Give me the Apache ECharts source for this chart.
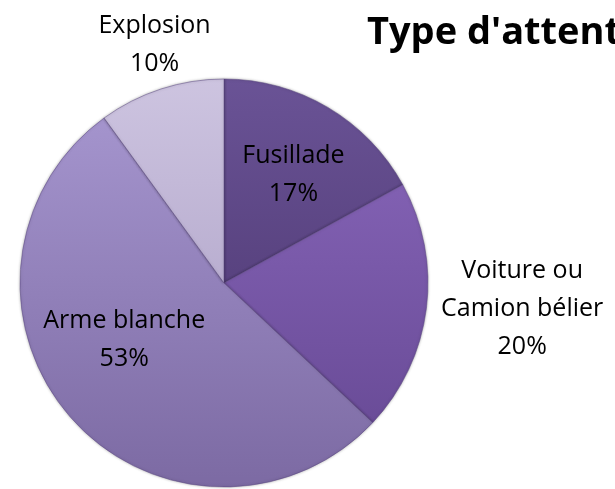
<!DOCTYPE html>
<html>
<head>
<meta charset="utf-8">
<script src="https://cdn.jsdelivr.net/npm/echarts@6/dist/echarts.min.js"></script>
<style>
  html, body { margin: 0; padding: 0; background: #fff; }
  #chart { width: 615px; height: 489px; }
</style>
</head>
<body>
<div id="chart"></div>
<script>
const categories = ["Fusillade", "Voiture ou\nCamion bélier", "Arme blanche", "Explosion"];
const shares = [17, 20, 53, 10];
const title = "Type d'attentat";

// top / bottom colour of each slice (Excel-like shading)
const colors = [
  ["#6a5396", "#58427f"],
  ["#8160b2", "#6a4c98"],
  ["#a494cd", "#7c6aa3"],
  ["#cdc4e0", "#b9aed0"]
];
// nudges from the default inside label spot
const labelShift = [[16, -18], [194, 13], [-21, -13], [-37, -138]];

const chart = echarts.init(document.getElementById("chart"), null, { renderer: "canvas" });

chart.setOption({
  animation: false,
  title: {
    text: title,
    left: 362,
    top: 9,
    textStyle: { fontFamily: "Open Sans", fontWeight: "bold", fontSize: 38, color: "#000" }
  },
  series: [{
    type: "pie",
    center: [224, 283],
    radius: [0, 204],
    startAngle: 90,
    clockwise: true,
    label: {
      position: "inside",
      formatter: p => p.name + "\n" + p.value + "%",
      fontFamily: "Open Sans",
      fontSize: 25,
      lineHeight: 38,
      color: "#000",
      align: "center"
    },
    labelLine: { show: false },
    labelLayout: p => ({ dx: labelShift[p.dataIndex][0], dy: labelShift[p.dataIndex][1] }),
    emphasis: { disabled: true },
    itemStyle: {
      borderColor: "rgba(90,70,130,0.5)",
      borderWidth: 1,
      shadowColor: "rgba(0,0,0,0.3)",
      shadowBlur: 3
    },
    data: categories.map((c, i) => ({
      name: c,
      value: shares[i],
      itemStyle: {
        color: new echarts.graphic.LinearGradient(0, 0, 0, 1, [
          { offset: 0, color: colors[i][0] },
          { offset: 1, color: colors[i][1] }
        ])
      }
    }))
  }]
});
</script>
</body>
</html>
